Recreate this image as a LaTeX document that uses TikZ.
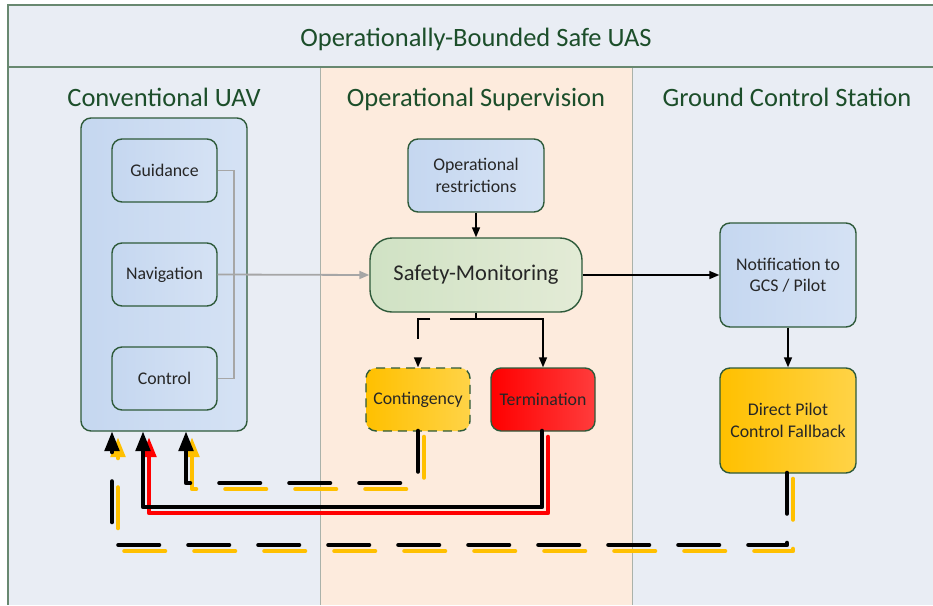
\documentclass[tikz,border=0pt]{standalone}
\usepackage{fontspec}
\setmainfont{Carlito}
\usetikzlibrary{arrows.meta,shadings}

\definecolor{panelbg}{RGB}{233,237,244}
\definecolor{midbg}{RGB}{253,235,221}
\definecolor{frameline}{RGB}{104,136,112}
\definecolor{colline}{RGB}{170,178,170}
\definecolor{titlegreen}{RGB}{28,78,42}
\definecolor{boxline}{RGB}{46,90,58}
\definecolor{blueL}{RGB}{197,215,240}
\definecolor{blueR}{RGB}{213,226,244}
\definecolor{greenL}{RGB}{208,226,196}
\definecolor{greenR}{RGB}{227,235,214}
\definecolor{amberL}{RGB}{255,192,0}
\definecolor{amberR}{RGB}{255,211,71}
\definecolor{redL}{RGB}{255,0,0}
\definecolor{redR}{RGB}{255,60,60}
\definecolor{greyline}{RGB}{166,166,166}
\definecolor{shadowyellow}{RGB}{255,192,0}
\definecolor{shadowred}{RGB}{255,0,0}

\tikzset{
  box/.style={draw=boxline, line width=1.4pt, rounded corners=10pt, inner sep=0pt,
    text=black!85, align=center, font=\fontsize{17.8}{21.5}\selectfont},
  bluebox/.style={box, left color=blueL, right color=blueR},
  amberbox/.style={box, left color=amberL, right color=amberR},
  redbox/.style={box, left color=redL, right color=redR},
  greenbox/.style={box, left color=greenL, right color=greenR, rounded corners=22pt,
    font=\fontsize{22.5}{27}\selectfont},
  heading/.style={text=titlegreen, anchor=base, font=\fontsize{26.5}{30}\selectfont},
  thinarrow/.style={draw=black, line width=1.5pt, -{Triangle[length=10pt,width=8pt]}},
  greyconn/.style={draw=greyline, line width=1.8pt},
  greyarrow/.style={greyconn, -{Triangle[length=10pt,width=8pt]}},
  thick path/.style={line width=4.6pt, line cap=round, line join=round,
    -{Triangle[length=20pt,width=14pt]}},
  longdash/.style={dash pattern=on 40.5pt off 29.5pt},
}

\begin{document}
\begin{tikzpicture}[x=1pt,y=-1pt]
  \useasboundingbox (0,0) rectangle (933,605);

  % panels
  \fill[white] (0,0) rectangle (933,605);
  \fill[panelbg] (8,5) rectangle (933,605);
  \fill[midbg] (320,67) rectangle (632,605);
  \draw[colline, line width=1pt] (320,67) -- (320,605);
  \draw[colline, line width=1pt] (632,67) -- (632,605);
  \draw[frameline, line width=1.2pt] (933,5) -- (8,5) -- (8,605);
  \draw[frameline, line width=1.2pt] (8,67) -- (933,67);

  % headings
  \node[heading] (title) at (476,46) {Operationally-Bounded Safe UAS};
  \node[heading] (hUAV) at (164,106) {Conventional UAV};
  \node[heading] (hSup) at (476,106) {Operational Supervision};
  \node[heading] (hGCS) at (787,106) {Ground Control Station};

  % conventional UAV
  \node[bluebox, minimum width=166pt, minimum height=313pt] (uav) at (164,274.5) {};
  \node[bluebox, minimum width=105pt, minimum height=63pt] (guid) at (164.5,170.5) {Guidance};
  \node[bluebox, minimum width=105pt, minimum height=63pt] (nav) at (164.5,274.5) {Navigation};
  \node[bluebox, minimum width=105pt, minimum height=63pt] (ctrl) at (164.5,378.5) {Control};

  % operational supervision
  \node[bluebox, minimum width=136pt, minimum height=73pt] (restr) at (476,175.5) {Operational\\restrictions};
  \node[greenbox, minimum width=212pt, minimum height=74pt] (mon) at (476,275) {Safety-Monitoring};
  \node[amberbox, dash pattern=on 9pt off 6pt, minimum width=104pt, minimum height=63pt] (cont) at (418,399.5) {Contingency};
  \node[redbox, minimum width=104pt, minimum height=63pt] (term) at (543,399.5) {Termination};

  % ground control station
  \node[bluebox, minimum width=136pt, minimum height=104pt] (notif) at (788,275) {Notification to\\GCS / Pilot};
  \node[amberbox, minimum width=136pt, minimum height=105pt] (pilot) at (788,420.5) {Direct Pilot\\Control Fallback};

  % grey data links inside the UAV
  \draw[greyconn] (guid.east) -- ++(16,0) |- (ctrl.east);
  \draw[greyarrow] (nav.east) -- (mon.west);

  % supervision links
  \draw[thinarrow] (restr.south) -- (mon.north);
  \draw[thinarrow] (mon.east) -- (notif.west);
  \draw[thinarrow] (notif.south) -- (pilot.north);
  \coordinate (split) at (476,319);
  \draw[thinarrow] (mon.south) -- (split) -| (term.north);
  \draw[thinarrow, dash pattern=on 32pt off 20pt] (mon.south) -- (split) -| (cont.north);

  % return paths into the UAV
  \coordinate (inA) at (112,431);
  \coordinate (inB) at (143,431);
  \coordinate (inC) at (186,431);
  \coordinate (contOut) at (418,431);
  \coordinate (termOut) at (542,431);
  \coordinate (pilotOut) at (787,473);

  % coloured offsets underneath
  \draw[thick path, longdash, shadowyellow] ([shift={(6,6)}]pilotOut) -- (793,551) -- (118,551) -- ([shift={(6,6)}]inA);
  \draw[thick path, longdash, shadowyellow] ([shift={(6,6)}]contOut) -- (424,489) -- (192,489) -- ([shift={(6,6)}]inC);
  \draw[thick path, shadowred] ([shift={(6,6)}]termOut) -- (548,513) -- (149,513) -- ([shift={(6,6)}]inB);

  % black paths on top
  \draw[thick path, longdash, black] (pilotOut) -- (787,545) -- (112,545) -- (inA);
  \draw[thick path, longdash, black] (contOut) -- (418,483) -- (186,483) -- (inC);
  \draw[thick path, black] (termOut) -- (542,507) -- (143,507) -- (inB);
\end{tikzpicture}
\end{document}
